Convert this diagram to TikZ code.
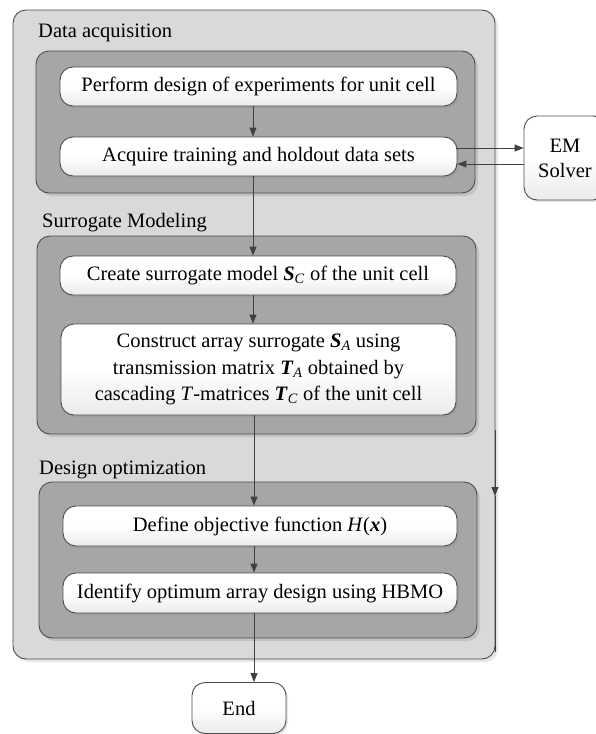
\documentclass[tikz,border=0pt]{standalone}
\usepackage{fontspec}
\setmainfont{Liberation Serif}
\usetikzlibrary{arrows.meta,shadows}
\definecolor{edge}{HTML}{4D4D4D}
\definecolor{outerfill}{HTML}{D9D9D9}
\definecolor{innerfill}{HTML}{A6A6A6}
\definecolor{arrowc}{HTML}{404040}
\tikzset{
  outerbox/.style={draw=edge, line width=0.9pt, fill=outerfill, rounded corners=13pt,
    drop shadow={opacity=0.2, shadow xshift=3pt, shadow yshift=-3pt}},
  innerbox/.style={draw=edge, line width=0.9pt, fill=innerfill, rounded corners=13pt,
    drop shadow={opacity=0.25, shadow xshift=3pt, shadow yshift=-3pt}},
  stepbox/.style={draw=edge, line width=0.9pt, rounded corners=13pt,
    top color=white, bottom color=black!8, middle color=white,
    align=center, font=\fontsize{20.5}{26.5}\selectfont, inner sep=0pt,
    drop shadow={opacity=0.2, shadow xshift=2pt, shadow yshift=-2pt}},
  grouplabel/.style={anchor=west, inner sep=0pt, font=\fontsize{20.5}{24}\selectfont},
  arr/.style={draw=arrowc, line width=1pt, -{Triangle[length=9pt,width=7pt]}},
  plain/.style={draw=arrowc, line width=1pt}
}
\begin{document}
\begin{tikzpicture}[x=1pt,y=-1pt]
\useasboundingbox (0,0) rectangle (595,734);
% outer container
\node[outerbox, minimum width=482pt, minimum height=649pt] (outer) at (254,334.5) {};
% group boxes
\node[innerbox, minimum width=439pt, minimum height=142pt] (g1) at (255.5,122) {};
\node[innerbox, minimum width=439pt, minimum height=198pt] (g2) at (256.5,335) {};
\node[innerbox, minimum width=438pt, minimum height=156pt] (g3) at (258,560) {};
% group labels
\node[grouplabel] (l1) at (38,33) {Data acquisition};
\node[grouplabel] (l2) at (42,223) {Surrogate Modeling};
\node[grouplabel] (l3) at (39,470) {Design optimization};
% steps
\node[stepbox, minimum width=397pt, minimum height=39pt] (perf) at (258.5,86.5) {Perform design of experiments for unit cell};
\node[stepbox, minimum width=397pt, minimum height=39pt] (acq) at (258.5,156.5) {Acquire training and holdout data sets};
\node[stepbox, minimum width=396pt, minimum height=39pt] (create) at (258,275.5) {Create surrogate model \textbf{\textit{S}}\textsubscript{\textit{C}} of the unit cell};
\node[stepbox, minimum width=395pt, minimum height=91pt] (constr) at (258.5,369.5) {Construct array surrogate \textbf{\textit{S}}\textsubscript{\textit{A}} using\\ transmission matrix \textbf{\textit{T}}\textsubscript{\textit{A}} obtained by\\ cascading \textit{T}-matrices \textbf{\textit{T}}\textsubscript{\textit{C}} of the unit cell};
\node[stepbox, minimum width=394pt, minimum height=40pt] (define) at (260,526) {Define objective function \textit{H}(\textbf{\textit{x}})};
\node[stepbox, minimum width=394pt, minimum height=40pt] (ident) at (260,593) {Identify optimum array design using HBMO};
\node[stepbox, minimum width=94pt, minimum height=51pt] (endn) at (239,708) {End};
\node[stepbox, minimum width=82pt, minimum height=84pt, font=\fontsize{20.5}{25}\selectfont] (em) at (565,158) {EM\\Solver};
% connector guide coordinates
\coordinate (ax) at (253,0);
\coordinate (bx) at (254,0);
\coordinate (ya) at (0,148);
\coordinate (yb) at (0,164);
\coordinate (rtop) at (495,430);
\coordinate (rmid) at (495,496);
\coordinate (rbot) at (495,652);
% connectors
\draw[arr] (perf.south -| ax) -- (acq.north -| ax);
\draw[arr] (acq.south -| ax) -- (create.north -| ax);
\draw[arr] (create.south -| ax) -- (constr.north -| ax);
\draw[arr] (constr.south -| bx) -- (define.north -| bx);
\draw[arr] (define.south -| bx) -- (ident.north -| bx);
\draw[arr] (ident.south -| bx) -- (endn.north -| bx);
\draw[arr] (acq.east |- ya) -- (em.west |- ya);
\draw[arr] (em.west |- yb) -- (acq.east |- yb);
\draw[arr] (rtop) -- (rmid);
\draw[plain] (rmid) -- (rbot);
\end{tikzpicture}
\end{document}
